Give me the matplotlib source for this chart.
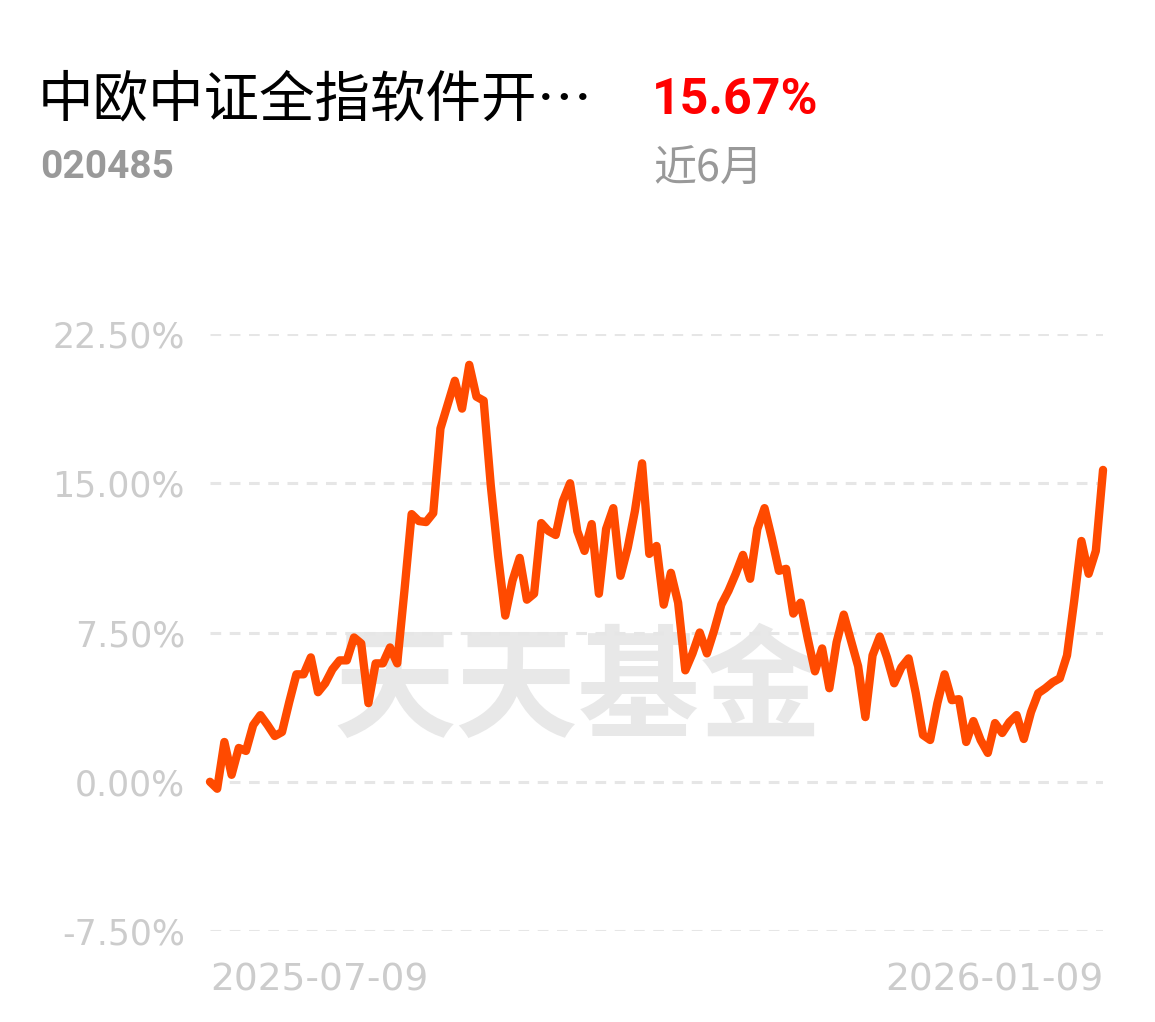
import numpy as np
import matplotlib
matplotlib.use('Agg')
import matplotlib.pyplot as plt

# 中文字体
plt.rcParams['font.family'] = ['Noto Sans CJK SC', 'DejaVu Sans']
plt.rcParams['axes.unicode_minus'] = False

# 基金信息
fund_name = '中欧中证全指软件开…'
fund_code = '020485'
period_return = '15.67%'
period_label = '近6月'
watermark = '天天基金'

# 近6月累计收益率(%)，按交易日
returns = [0.0, -0.35, 2.0, 0.35, 1.7, 1.55, 2.85, 3.35, 2.85, 2.3,
           2.5, 4.0, 5.4, 5.4, 6.25, 4.5, 4.95, 5.65, 6.1, 6.1,
           7.25, 6.95, 3.95, 5.95, 5.95, 6.75, 5.95, 9.6, 13.45, 13.1,
           13.05, 13.5, 17.75, 18.95, 20.15, 18.75, 20.95, 19.35, 19.15, 14.85,
           11.35, 8.35, 10.1, 11.25, 9.15, 9.45, 13.0, 12.6, 12.4, 14.1,
           15.0, 12.6, 11.6, 12.95, 9.45, 12.7, 13.75, 10.35, 11.75, 13.6,
           16.0, 11.45, 11.85, 8.9, 10.5, 9.0, 5.6, 6.45, 7.5, 6.45,
           7.6, 8.9, 9.6, 10.45, 11.4, 10.2, 12.7, 13.75, 12.25, 10.6,
           10.7, 8.45, 9.0, 7.2, 5.55, 6.7, 4.7, 7.0, 8.4, 7.1,
           5.8, 3.25, 6.35, 7.3, 6.25, 4.95, 5.75, 6.2, 4.45, 2.35,
           2.1, 3.95, 5.4, 4.1, 4.15, 2.0, 3.05, 2.1, 1.45, 2.95,
           2.45, 3.0, 3.35, 2.15, 3.5, 4.45, 4.7, 5.0, 5.2, 6.35,
           9.1, 12.1, 10.45, 11.6, 15.67]

# 坐标轴刻度
y_ticks = [-7.5, 0.0, 7.5, 15.0, 22.5]
y_tick_labels = ['-7.50%', '0.00%', '7.50%', '15.00%', '22.50%']
x_tick_labels = ['2025-07-09', '2026-01-09']

x = np.arange(len(returns))

fig = plt.figure(figsize=(11.55, 10.22), dpi=100)
fig.patch.set_facecolor('white')
ax = fig.add_axes([0.1818, 0.089, 0.7732, 0.5842])
ax.set_xlim(0, len(returns) - 1)
ax.set_ylim(-7.5, 22.5)

# 虚线网格
for yv in y_ticks:
    ax.axhline(yv, color='#e6e6e6', lw=2.2, ls=(0, (3.5, 2.8)), zorder=1)

# 水印
ax.text(0.412, 0.40, watermark, transform=ax.transAxes, ha='center', va='center',
        fontsize=88, fontweight='bold', color='#e8e8e8', zorder=0)

ax.plot(x, returns, color='#ff4a00', lw=6.0, solid_joinstyle='round',
        solid_capstyle='round', clip_on=False, zorder=3)

for s in ax.spines.values():
    s.set_visible(False)
ax.set_yticks(y_ticks)
ax.set_yticklabels(y_tick_labels, family='DejaVu Sans')
ax.tick_params(axis='y', length=0, pad=18, labelsize=25, labelcolor='#cccccc')
ax.set_xticks([])

# x轴只标首尾日期
ax.text(0, -0.082, x_tick_labels[0], transform=ax.get_xaxis_transform(),
        ha='left', va='center', fontsize=27, color='#cccccc', family='DejaVu Sans')
ax.text(len(returns) - 1, -0.082, x_tick_labels[1], transform=ax.get_xaxis_transform(),
        ha='right', va='center', fontsize=27, color='#cccccc', family='DejaVu Sans')

# 标题区
fig.text(38 / 1155, 1 - 101 / 1022, fund_name, ha='left', va='center',
         fontsize=40, color='#000000')
fig.text(40 / 1155, 1 - 168 / 1022, fund_code, ha='left', va='center',
         fontsize=28, fontweight='bold', color='#999999', family=['Roboto', 'DejaVu Sans'])
fig.text(652 / 1155, 1 - 101 / 1022, period_return, ha='left', va='center',
         fontsize=36, fontweight='bold', color='#ff0000', family=['Roboto', 'DejaVu Sans'])
fig.text(653 / 1155, 1 - 170 / 1022, period_label, ha='left', va='center',
         fontsize=31, color='#999999')

fig.savefig('out.png', dpi=100, facecolor='white')
